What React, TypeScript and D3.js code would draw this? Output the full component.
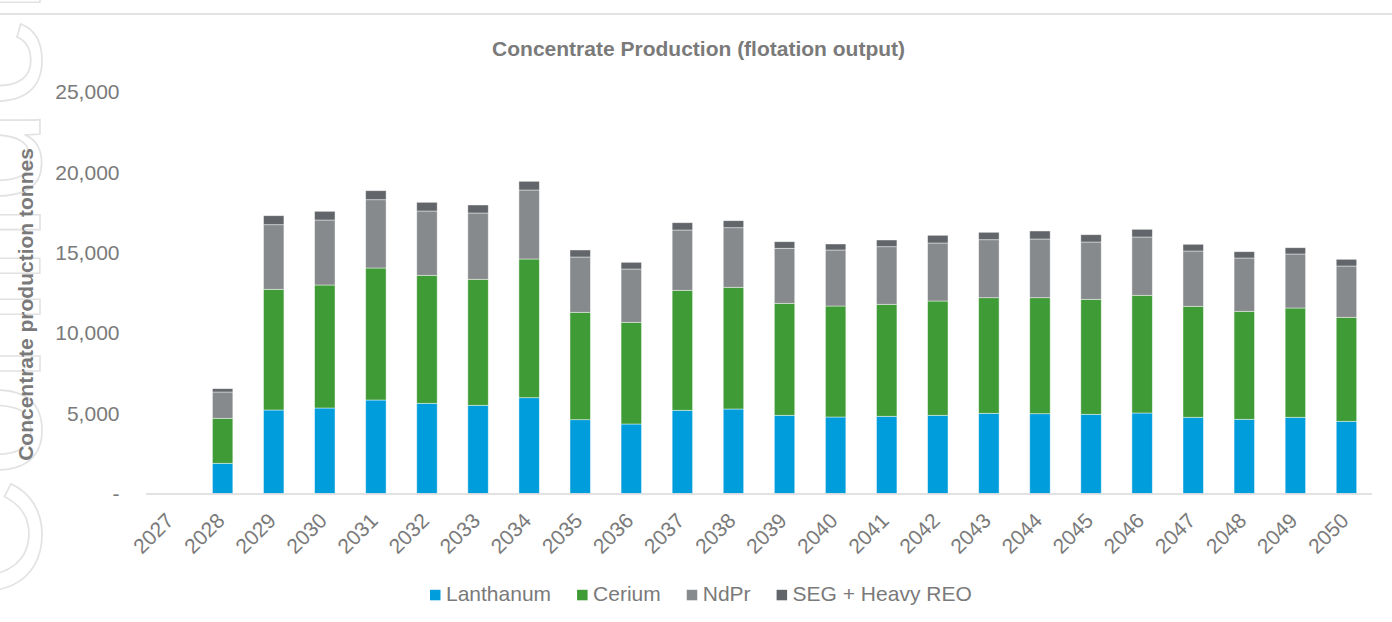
import React, { useMemo } from "react";
import * as d3 from "d3";

const years = ["2027","2028","2029","2030","2031","2032","2033","2034","2035","2036","2037","2038","2039","2040","2041","2042","2043","2044","2045","2046","2047","2048","2049","2050"];
const lanthanum = [0,1880,5195,5320,5818,5612,5488,5961,4592,4324,5177,5258,4866,4760,4803,4866,4990,4965,4928,5009,4741,4617,4741,4492];
const cerium = [0,2800,7510,7653,8213,7964,7840,8630,6682,6328,7466,7572,6968,6906,6969,7111,7193,7218,7155,7323,6907,6719,6801,6471];
const ndpr = [0,1636,4020,4044,4249,4001,4125,4293,3441,3316,3752,3708,3422,3485,3584,3609,3608,3652,3565,3627,3440,3317,3360,3192];
const segHeavy = [0,206,560,541,561,542,498,541,436,417,454,436,411,373,417,479,461,498,455,479,417,392,391,417];
const seriesNames = ["Lanthanum","Cerium","NdPr","SEG + Heavy REO"];
const seriesColors = ["#009ddc","#3f9b35","#878a8c","#626569"];
const yTicks = [0,5000,10000,15000,20000,25000];

const FONT = "'Liberation Sans', Arial, Helvetica, sans-serif";
const TEXT = "#7a7a7a";

function measure(text: string, font: string): number {
  const c = document.createElement("canvas");
  const ctx = c.getContext("2d");
  if (!ctx) return text.length * 11;
  ctx.font = font;
  return ctx.measureText(text).width;
}

export default function App() {
  const W = 1392, H = 622;
  const x = d3.scaleBand<string>().domain(years).range([146, 1372]).paddingInner(0.6).paddingOuter(0.3);
  const y = d3.scaleLinear().domain([0, 25000]).range([493.5, 91.7]);

  const table = years.map((yr, i) => ({
    year: yr,
    Lanthanum: lanthanum[i],
    Cerium: cerium[i],
    NdPr: ndpr[i],
    "SEG + Heavy REO": segHeavy[i],
  }));
  const stacked = d3.stack<any>().keys(seriesNames)(table);
  const fmt = (v: number) => (v === 0 ? "-" : d3.format(",")(v));

  const legendItems = useMemo(() => {
    let cx = 430;
    return seriesNames.map((n, i) => {
      const w = measure(n, `21px ${FONT}`);
      const item = { name: n, color: seriesColors[i], x: cx };
      cx += 16 + w + 26;
      return item;
    });
  }, []);

  return (
    <svg width={W} height={H} style={{ position: "absolute", left: 0, top: 0, background: "#fff" }} fontFamily={FONT}>
      {/* faint watermark */}
      <text transform="translate(40,600) rotate(-90)" fontSize={170} fill="none" stroke="#e2e2e2" strokeWidth={1.6} fontFamily={FONT}>
        Confidential
      </text>
      <line x1={0} x2={W} y1={14} y2={14} stroke="#dadada" strokeWidth={1.5} />

      <text x={698.6} y={55.5} textAnchor="middle" fontSize={21} fontWeight="bold" fill={TEXT}>
        Concentrate Production (flotation output)
      </text>

      <text transform={`translate(33,304.5) rotate(-90)`} textAnchor="middle" fontSize={21} fontWeight="bold" fill={TEXT}>
        Concentrate production tonnes
      </text>

      {yTicks.map((t) => (
        <text key={t} x={119.5} y={y(t) + 7.5} textAnchor="end" fontSize={21} fill={TEXT}>
          {fmt(t)}
        </text>
      ))}

      {stacked.map((s, si) => (
        <g key={s.key} fill={seriesColors[si]}>
          {s.map((d, i) => {
            const h = y(d[0]) - y(d[1]);
            if (h <= 0) return null;
            return (
              <rect
                key={i}
                x={x(years[i])!}
                y={y(d[1])}
                width={x.bandwidth()}
                height={h}
                stroke="#ffffff"
                strokeOpacity={0.55}
                strokeWidth={0.8}
              />
            );
          })}
        </g>
      ))}

      <line x1={146} x2={1372} y1={494} y2={494} stroke="#d9d9d9" strokeWidth={1.6} />

      {years.map((yr) => {
        const cx = x(yr)! + x.bandwidth() / 2 + 3.5;
        return (
          <text key={yr} transform={`translate(${cx},522) rotate(-45)`} textAnchor="end" fontSize={21} fill={TEXT}>
            {yr}
          </text>
        );
      })}

      {legendItems.map((it) => (
        <g key={it.name}>
          <rect x={it.x} y={589.8} width={10.5} height={10.5} fill={it.color} />
          <text x={it.x + 16} y={601.3} fontSize={21} fill={TEXT}>
            {it.name}
          </text>
        </g>
      ))}
    </svg>
  );
}
